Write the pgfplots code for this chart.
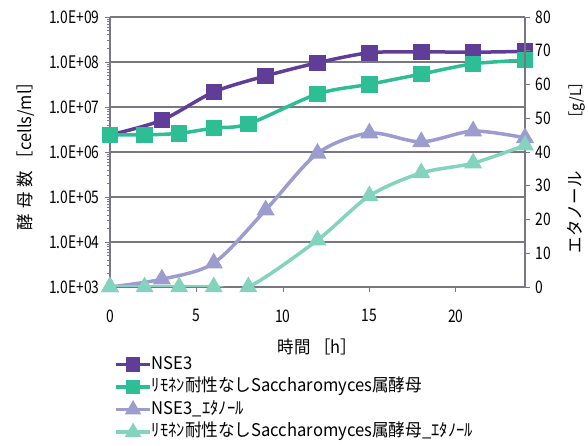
\documentclass[border=0pt]{standalone}
\usepackage{fontspec}
\setmainfont{Noto Sans CJK JP}[FakeStretch=0.8]
\newfontfamily\labelfont{Noto Sans CJK JP}[FakeStretch=0.95]
\usepackage{pgfplots}
\pgfplotsset{compat=1.18}

\definecolor{cPurple}{RGB}{96,62,152}
\definecolor{cGreen}{RGB}{46,190,150}
\definecolor{cLav}{RGB}{156,156,206}
\definecolor{cTeal}{RGB}{132,211,190}
\definecolor{cGrid}{RGB}{120,120,132}

\newcommand{\gap}{\hspace{5pt}}

\begin{document}
\begin{tikzpicture}[font=\fontsize{17.3}{19}\selectfont]
\pgfplotsset{
  every axis/.append style={
    scale only axis, width=415pt, height=270pt,
    at={(0pt,0pt)}, anchor=south west,
    xmin=0, xmax=24,
    /pgf/number format/assume math mode=true,
    tick style={cGrid, line width=0.8pt},
    major tick length=5pt,
    axis line style={cGrid, line width=1.2pt},
  },
  leg/.style={legend image code/.code={
      \draw[#1, mark=none] plot coordinates {(0pt,0pt) (17pt,0pt) (34pt,0pt)};
      \draw[#1, mark repeat=2, mark phase=2] plot coordinates {(0pt,0pt) (17pt,0pt) (34pt,0pt)};}},
}
\useasboundingbox (-110pt,-159pt) rectangle (478pt,287pt);

% Cell counts (log scale, left axis)
\begin{axis}[
  ymode=log, ymin=1e3, ymax=1e9,
  axis x line*=bottom, axis y line*=left,
  xtick={0,5,10,15,20},
  xticklabel style={yshift=-14pt},
  ytick={1e3,1e4,1e5,1e6,1e7,1e8,1e9},
  yticklabels={1.0E+03,1.0E+04,1.0E+05,1.0E+06,1.0E+07,1.0E+08,1.0E+09},
  yticklabel style={xshift=-2pt},
  ymajorgrids, grid style={cGrid, line width=1.2pt},
  tick align=outside,
  xlabel={\labelfont 時間 ［h］}, xlabel style={yshift=-10pt},
  ylabel={\labelfont 酵\gap 母\gap 数 ［cells/ml］}, ylabel style={yshift=8pt},
]
\addplot[cPurple, line width=3.5pt, smooth, tension=0.5, mark=square*, mark size=6.5pt, mark options={solid}]
  coordinates {(0,2.4e6) (3,5.1e6) (6,2.15e7) (9,4.9e7) (12,9.6e7) (15,1.6e8) (18,1.68e8) (21,1.65e8) (24,1.72e8)};
\addplot[cGreen, line width=3.5pt, smooth, tension=0.5, mark=square*, mark size=6.5pt]
  coordinates {(0,2.4e6) (2,2.4e6) (4,2.6e6) (6,3.4e6) (8,4.2e6) (12,1.95e7) (15,3.2e7) (18,5.4e7) (21,9.1e7) (24,1.1e8)};
\end{axis}

% Ethanol (g/L, right axis)
\begin{axis}[
  ymin=0, ymax=80,
  axis y line*=right, axis x line=none,
  ytick={0,10,...,80},
  yticklabel style={xshift=2pt},
  tick align=outside,
  ylabel={\labelfont エタノール\hspace{46pt}{\fontsize{15}{16}\selectfont ［g/L］}},
  ylabel style={yshift=-10pt, xshift=-12pt},
  legend style={at={(axis description cs:0.01,-0.255)}, anchor=north west,
    draw=none, fill=none, inner sep=0pt, row sep=5.5pt,
    nodes={inner sep=0pt, text height=13pt, text depth=4pt, anchor=west, xshift=1pt},
    font=\labelfont\fontsize{17.5}{19}\selectfont},
  legend cell align=left,
]
\addlegendimage{leg={cPurple, line width=3.5pt, mark=square*, mark size=5.5pt}}
\addlegendentry{NSE3}
\addlegendimage{leg={cGreen, line width=3.5pt, mark=square*, mark size=5.5pt}}
\addlegendentry{ﾘﾓﾈﾝ耐性なしSaccharomyces属酵母}
\addplot[cLav, line width=3.5pt, smooth, tension=0.5, mark=triangle*, mark size=7pt,
  leg={cLav, line width=3.5pt, mark=triangle*, mark size=6pt}]
  coordinates {(0,0) (3,2.3) (6,7.1) (9,22.8) (12,39.6) (15,45.6) (18,43) (21,46.2) (24,44.2)};
\addlegendentry{NSE3\_ｴﾀﾉｰﾙ}
\addplot[cTeal, line width=3.5pt, smooth, tension=0.5, mark=triangle*, mark size=7pt,
  leg={cTeal, line width=3.5pt, mark=triangle*, mark size=6pt}]
  coordinates {(0,0) (2,0) (4,0) (6,0) (8,0) (12,13.9) (15,27) (18,33.8) (21,36.7) (24,42)};
\addlegendentry{ﾘﾓﾈﾝ耐性なしSaccharomyces属酵母\_ｴﾀﾉｰﾙ}
\end{axis}
\end{tikzpicture}
\end{document}
